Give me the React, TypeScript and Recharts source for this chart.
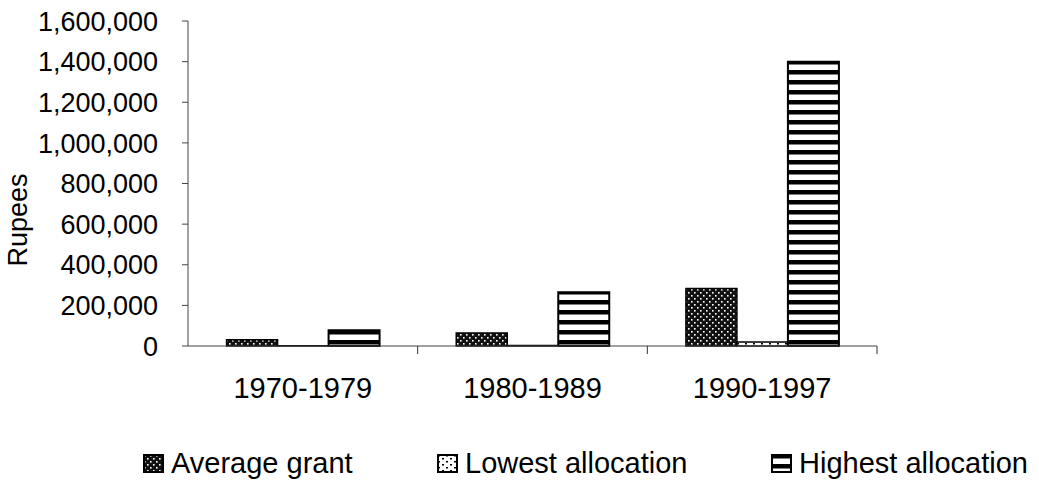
import React from 'react';
import { BarChart, Bar, XAxis, YAxis, Legend } from 'recharts';

const categories = ['1970-1979', '1980-1989', '1990-1997'];
const averageGrant = [31000, 64000, 283000];
const lowestAllocation = [1000, 2500, 20000];
const highestAllocation = [78000, 265000, 1400000];
const yTicks = [0, 200000, 400000, 600000, 800000, 1000000, 1200000, 1400000, 1600000];

const data = categories.map((c, i) => ({
  period: c,
  avg: averageGrant[i],
  low: lowestAllocation[i],
  high: highestAllocation[i],
}));

const FONT = '"Liberation Sans", Arial, sans-serif';

const fmt = (v: number) => v.toLocaleString('en-US');

const XTick = (props: any) => {
  const { x, y, payload } = props;
  const axisY = y - 31;
  const off = payload && payload.offset ? payload.offset : 0;
  return (
    <g>
      <line x1={x + off} y1={axisY} x2={x + off} y2={axisY + 8} stroke="#333" strokeWidth={1} />
      <text x={x} y={y} dy="0.71em" textAnchor="middle" fontSize={29} fontFamily={FONT} fill="#000">
        {payload.value}
      </text>
    </g>
  );
};

const YTick = (props: any) => {
  const { x, y, payload } = props;
  return (
    <text x={x} y={y} dy="0.36em" textAnchor="end" fontSize={27} fontFamily={FONT} fill="#000">
      {fmt(payload.value)}
    </text>
  );
};

const YLabel = () => (
  <text
    x={18}
    y={220}
    transform="rotate(-90, 18, 220)"
    textAnchor="middle"
    dominantBaseline="central"
    fontSize={27}
    fontFamily={FONT}
    fill="#000"
  >
    Rupees
  </text>
);

const legendItems = [
  { label: 'Average grant', fill: 'url(#patAvg)', left: 143 },
  { label: 'Lowest allocation', fill: 'url(#patLow)', left: 437 },
  { label: 'Highest allocation', fill: 'url(#patHigh)', left: 771 },
];

const LegendContent = () => (
  <div style={{ position: 'relative', width: 1039, height: 54 }}>
    {legendItems.map((it) => (
      <div
        key={it.label}
        style={{
          position: 'absolute',
          left: it.left,
          top: 22,
          height: 30,
          lineHeight: '30px',
          display: 'flex',
          alignItems: 'center',
          fontFamily: FONT,
          fontSize: 29,
          color: '#000',
          whiteSpace: 'nowrap',
        }}
      >
        <svg width={21} height={19} style={{ marginRight: 7 }}>
          <rect x={1} y={1} width={19} height={17} fill={it.fill} stroke="#000" strokeWidth={2} />
        </svg>
        <span>{it.label}</span>
      </div>
    ))}
  </div>
);

export default function App() {
  return (
    <div style={{ position: 'absolute', left: 0, top: 0, width: 1039, height: 480, background: '#fff' }}>
      <BarChart
        width={1039}
        height={480}
        data={data}
        margin={{ top: 21, right: 162, bottom: 0, left: 0 }}
        barCategoryGap="16.8%"
        barGap={0}
      >
        <defs>
          <pattern id="patAvg" patternUnits="userSpaceOnUse" width={6} height={6}>
            <rect width={6} height={6} fill="#111" />
            <rect x={1} y={1} width={1.6} height={1.6} fill="#fff" />
            <rect x={4} y={4} width={1.6} height={1.6} fill="#fff" />
          </pattern>
          <pattern id="patLow" patternUnits="userSpaceOnUse" width={8} height={6}>
            <rect width={8} height={6} fill="#fff" />
            <rect x={1} y={1} width={2} height={1.5} fill="#000" />
            <rect x={5} y={4} width={2} height={1.5} fill="#000" />
          </pattern>
          <pattern id="patHigh" patternUnits="userSpaceOnUse" width={10} height={10}>
            <rect width={10} height={10} fill="#fff" />
            <rect x={0} y={0} width={10} height={4.5} fill="#000" />
          </pattern>
        </defs>
        <XAxis
          dataKey="period"
          height={80}
          tickLine={false}
          tickSize={0}
          tickMargin={31}
          axisLine={{ stroke: '#444', strokeWidth: 1 }}
          tick={<XTick />}
          interval={0}
        />
        <YAxis
          width={188}
          domain={[0, 1600000]}
          ticks={yTicks}
          interval={0}
          tickSize={6}
          tickMargin={24}
          axisLine={{ stroke: '#444', strokeWidth: 1 }}
          tickLine={{ stroke: '#444', strokeWidth: 1 }}
          tick={<YTick />}
          label={<YLabel />}
        />
        <Legend
          verticalAlign="bottom"
          content={<LegendContent />}
          wrapperStyle={{ left: 0, bottom: 0, width: 1039, height: 54 }}
        />
        <Bar dataKey="avg" name="Average grant" fill="url(#patAvg)" stroke="#000" strokeWidth={1.5} isAnimationActive={false} />
        <Bar dataKey="low" name="Lowest allocation" fill="url(#patLow)" stroke="#000" strokeWidth={1.5} isAnimationActive={false} />
        <Bar dataKey="high" name="Highest allocation" fill="url(#patHigh)" stroke="#000" strokeWidth={2} isAnimationActive={false} />
      </BarChart>
    </div>
  );
}
